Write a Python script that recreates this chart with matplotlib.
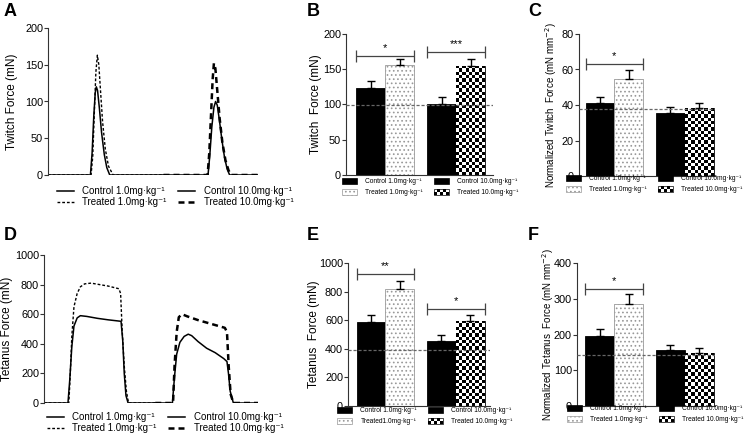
import numpy as np
import matplotlib
matplotlib.use("Agg")
import matplotlib.pyplot as plt
from matplotlib.patches import Patch, Rectangle
from matplotlib.lines import Line2D
from matplotlib.legend_handler import HandlerBase

plt.rcParams['font.family'] = ['Liberation Sans', 'DejaVu Sans']
plt.rcParams['hatch.linewidth'] = 0.7

# ---- traces (A: twitch, D: tetanus), time in arbitrary units ----
tw_c1_t = [0, 20.2, 21, 21.8, 22.5, 23, 23.6, 24.5, 25.5, 26.8, 28, 29.4, 55]
tw_c1_f = [0, 0, 30, 80, 112, 120, 115, 90, 58, 28, 10, 0, 0]
tw_t1_t = [0, 20.5, 21.3, 22, 22.8, 23.5, 24.2, 25, 26, 27.3, 28.8, 31, 55]
tw_t1_f = [0, 0, 25, 80, 140, 163, 150, 115, 72, 35, 12, 0, 0]
tw_c10_t = [55, 76.2, 77, 78, 79, 79.8, 80.6, 81.6, 82.8, 84, 85.3, 86.5, 100]
tw_c10_f = [0, 0, 25, 65, 92, 100, 95, 75, 48, 25, 8, 0, 0]
tw_t10_t = [55, 76, 76.8, 77.6, 78.4, 79, 79.7, 80.6, 81.7, 83, 84.5, 86, 87.3, 100]
tw_t10_f = [0, 0, 30, 80, 130, 152, 145, 115, 78, 45, 20, 6, 0, 0]

te_c1_t = [0, 11.2, 12, 13, 14, 15.5, 17, 20, 25, 30, 36, 36.8, 37.5, 38.3, 39.3, 52]
te_c1_f = [0, 0, 150, 380, 520, 575, 590, 585, 572, 562, 552, 420, 200, 50, 0, 0]
te_t1_t = [0, 11.6, 12.3, 13, 14, 15.5, 17, 19, 22, 26, 30, 35, 35.8, 36.5, 37.5, 38.5, 39.5, 52]
te_t1_f = [0, 0, 200, 450, 650, 740, 785, 805, 810, 800, 790, 772, 740, 500, 250, 80, 0, 0]
te_c10_t = [52, 60, 61, 62, 63.5, 65.5, 67.4, 69, 72, 76, 80, 84, 85.5, 86.2, 87, 88.5, 100]
te_c10_f = [0, 0, 180, 330, 410, 450, 465, 455, 415, 370, 340, 300, 280, 200, 80, 0, 0]
te_t10_t = [52, 60.3, 61, 62, 63, 64.5, 67, 72, 78, 84.5, 85.5, 86.3, 87.2, 88.5, 100]
te_t10_f = [0, 0, 250, 480, 580, 600, 585, 560, 535, 508, 480, 250, 60, 0, 0]

# ---- bar data: Control 1.0, Treated 1.0, Control 10.0, Treated 10.0 ----
bar_x = [0, 1, 2.45, 3.45]
twitch_mean = [123, 156, 101, 155]
twitch_err = [10, 8, 9, 9]
twitch_ref = 99
norm_twitch_mean = [41.3, 54.8, 35.7, 38.3]
norm_twitch_err = [3.4, 4.7, 3.0, 2.8]
norm_twitch_ref = 37.9
tetanus_mean = [590, 820, 452, 597]
tetanus_err = [45, 53, 42, 38]
tetanus_ref = 390
norm_tetanus_mean = [197, 286, 157, 149]
norm_tetanus_err = [18, 28, 15, 13]
norm_tetanus_ref = 142

leg_trace = ['Control 1.0mg·kg⁻¹', 'Treated 1.0mg·kg⁻¹',
             'Control 10.0mg·kg⁻¹', 'Treated 10.0mg·kg⁻¹']
leg_bar = ['Control 1.0mg·kg⁻¹', 'Treated 1.0mg·kg⁻¹',
           'Control 10.0mg·kg⁻¹', 'Treated 10.0mg·kg⁻¹']
leg_bar_e = ['Control 1.0mg·kg⁻¹', 'Treated1.0mg·kg⁻¹',
             'Control 10.0mg·kg⁻¹', 'Treated 10.0mg·kg⁻¹']

W, H = 753, 440
fig = plt.figure(figsize=(W / 100, H / 100), dpi=100)


def px_axes(left, right, top, bottom):
    return fig.add_axes([left / W, 1 - bottom / H, (right - left) / W, (bottom - top) / H])


def style_axis(ax, ylim, yticks, bottom=True):
    ax.set_ylim(*ylim)
    ax.set_yticks(yticks)
    for s in ['top', 'right']:
        ax.spines[s].set_visible(False)
    ax.spines['bottom'].set_visible(bottom)
    ax.spines['left'].set_color('#333333')
    ax.spines['bottom'].set_color('#333333')
    ax.tick_params(axis='y', direction='out', length=3, width=0.8, labelsize=7.8,
                   colors='#333333', labelcolor='black', pad=0.6)
    ax.set_xticks([])


class CheckerHandler(HandlerBase):
    def create_artists(self, legend, orig_handle, xdescent, ydescent, width, height, fontsize, trans):
        arts = [Rectangle((-xdescent, -ydescent), width, height, facecolor='white',
                          edgecolor='black', lw=0.5, transform=trans)]
        nx, ny = 5, 2
        cw, ch = width / nx, height / ny
        for i in range(nx):
            for j in range(ny):
                if (i + j) % 2 == 0:
                    arts.append(Rectangle((-xdescent + i * cw, -ydescent + j * ch), cw, ch,
                                          facecolor='black', edgecolor='none', transform=trans))
        return arts


class CheckerKey:
    pass


def trace_panel(ax, data, ylim, yticks, ylabel, label_x):
    (c1t, c1f), (t1t, t1f), (c10t, c10f), (t10t, t10f) = data
    ax.plot(c1t, c1f, color='black', lw=1.1, solid_capstyle='butt')
    ax.plot(c10t, c10f, color='black', lw=1.1)
    ax.plot(t1t, t1f, color='black', lw=1.0, ls=(0, (2, 1.4)))
    ax.plot(t10t, t10f, color='black', lw=1.8, ls=(0, (2.4, 1.6)))
    ax.set_xlim(0, 100)
    style_axis(ax, ylim, yticks, bottom=False)
    ax.set_ylabel(ylabel, fontsize=8.5)
    ax.yaxis.set_label_coords(label_x, 0.5)


def trace_legend(x, y):
    handles = [Line2D([], [], color='black', lw=1.1),
               Line2D([], [], color='black', lw=1.0, ls=(0, (2, 1.4))),
               Line2D([], [], color='black', lw=1.1),
               Line2D([], [], color='black', lw=1.8, ls=(0, (2.4, 1.6)))]
    fig.legend(handles, leg_trace, loc='upper left', bbox_to_anchor=(x / W, 1 - y / H),
               ncol=2, frameon=False, fontsize=7, handlelength=1.7, handletextpad=0.9,
               handleheight=0.5, columnspacing=1.2, labelspacing=0.15, borderpad=0,
               borderaxespad=0)


def bar_panel(ax, mean, err, ref, xlim, ylim, yticks, ylabel, lab_size, label_x):
    bars = ax.bar(bar_x, mean, width=1.0, zorder=2)
    bars[0].set(facecolor='black', edgecolor='black', lw=0.6)
    bars[2].set(facecolor='black', edgecolor='black', lw=0.6)
    bars[1].set(facecolor='white', edgecolor='#999999', lw=0.6, hatch='....')
    bars[3].set(facecolor='white', edgecolor='black', lw=0.6)
    ax.errorbar(bar_x, mean, yerr=[[0] * 4, err], fmt='none', ecolor='black',
                elinewidth=1.0, capsize=3, capthick=1.0, zorder=3)
    ax.axhline(ref, color='#666666', lw=0.9, ls=(0, (2.5, 1.5)), zorder=4)
    ax.set_xlim(*xlim)
    style_axis(ax, ylim, yticks)
    ax.set_ylabel(ylabel, fontsize=lab_size)
    ax.yaxis.set_label_coords(label_x, 0.5)
    # checkerboard fill of the treated 10.0 bar
    b = bars[3]
    x0, y0, bw, bh = b.get_x(), b.get_y(), b.get_width(), b.get_height()
    p0 = ax.transData.transform((x0, y0))
    p1 = ax.transData.transform((x0 + bw, y0 + bh))
    ncol = max(1, int(round((p1[0] - p0[0]) / 3.3)))
    nrow = max(1, int(round((p1[1] - p0[1]) / 3.3)))
    chk = np.add.outer(np.arange(nrow), np.arange(ncol)) % 2
    im = ax.imshow(chk, cmap='gray', extent=[x0, x0 + bw, y0, y0 + bh], aspect='auto',
                   interpolation='nearest', zorder=2.5)
    im.set_clip_path(b)
    ax.set_xlim(*xlim)
    ax.set_ylim(*ylim)


def bracket(ax, x0, x1, y, text):
    ax.errorbar([(x0 + x1) / 2], [y], xerr=[[(x1 - x0) / 2]], fmt='none', ecolor='#444444',
                elinewidth=0.9, capsize=4, capthick=0.9, zorder=5)
    ax.annotate(text, xy=((x0 + x1) / 2, y), xytext=(0, 2), textcoords='offset points',
                ha='center', va='bottom', fontsize=8)


def bar_legend(x, y, labels):
    handles = [Patch(facecolor='black', edgecolor='black', lw=0.5),
               Patch(facecolor='white', edgecolor='#999999', lw=0.5, hatch='....'),
               Patch(facecolor='black', edgecolor='black', lw=0.5),
               CheckerKey()]
    fig.legend(handles, labels, loc='upper left', bbox_to_anchor=(x / W, 1 - y / H),
               ncol=2, frameon=False, fontsize=4.8, handlelength=2.3, handleheight=0.9,
               handletextpad=1.2, columnspacing=1.6, labelspacing=0.6, borderpad=0,
               borderaxespad=0, handler_map={CheckerKey: CheckerHandler()})


# ---- A ----
axA = px_axes(48, 258, 28, 175)
trace_panel(axA, [(tw_c1_t, tw_c1_f), (tw_t1_t, tw_t1_f), (tw_c10_t, tw_c10_f), (tw_t10_t, tw_t10_f)],
            (0, 200), [0, 50, 100, 150, 200], 'Twitch Force (mN)', -0.143)
trace_legend(57, 186)

# ---- D ----
axD = px_axes(44, 258, 255, 403)
trace_panel(axD, [(te_c1_t, te_c1_f), (te_t1_t, te_t1_f), (te_c10_t, te_c10_f), (te_t10_t, te_t10_f)],
            (0, 1000), [0, 200, 400, 600, 800, 1000], 'Tetanus Force (mN)', -0.145)
trace_legend(47, 412)

# ---- B ----
axB = px_axes(346, 493, 34, 175)
bar_panel(axB, twitch_mean, twitch_err, twitch_ref, (-0.86, 4.22), (0, 200),
          [0, 50, 100, 150, 200], 'Twitch  Force (mN)', 8.5, -0.16)
bracket(axB, -0.5, 1.5, 169, '*')
bracket(axB, 1.95, 3.95, 174, '***')
bar_legend(342, 178, leg_bar)

# ---- C ----
axC = px_axes(579, 715, 34, 176)
bar_panel(axC, norm_twitch_mean, norm_twitch_err, norm_twitch_ref, (-0.73, 4.0), (0, 80),
          [0, 20, 40, 60, 80], 'Normalized Twitch  Force (mN mm$^{-2}$)', 7, -0.147)
bracket(axC, -0.5, 1.5, 62.9, '*')
bar_legend(566, 175, leg_bar)

# ---- E ----
axE = px_axes(348, 490, 263, 406)
bar_panel(axE, tetanus_mean, tetanus_err, tetanus_ref, (-0.8, 4.14), (0, 1000),
          [0, 200, 400, 600, 800, 1000], 'Tetanus  Force (mN)', 8.5, -0.197)
bracket(axE, -0.5, 1.5, 923, '**')
bracket(axE, 1.95, 3.95, 679, '*')
bar_legend(337, 407, leg_bar_e)

# ---- F ----
axF = px_axes(577, 715, 263, 406)
bar_panel(axF, norm_tetanus_mean, norm_tetanus_err, norm_tetanus_ref, (-0.79, 4.0), (0, 400),
          [0, 100, 200, 300, 400], 'Normalized Tetanus  Force (mN mm$^{-2}$)', 7, -0.155)
bracket(axF, -0.5, 1.5, 327, '*')
bar_legend(567, 405, leg_bar)

# panel letters
for lab, x, y in [('A', 4, 3), ('B', 307, 3), ('C', 528, 3),
                  ('D', 4, 227), ('E', 307, 227), ('F', 528, 227)]:
    fig.text(x / W, 1 - y / H, lab, fontsize=13, fontweight='bold', ha='left', va='top')

fig.savefig('out.png', dpi=100)
